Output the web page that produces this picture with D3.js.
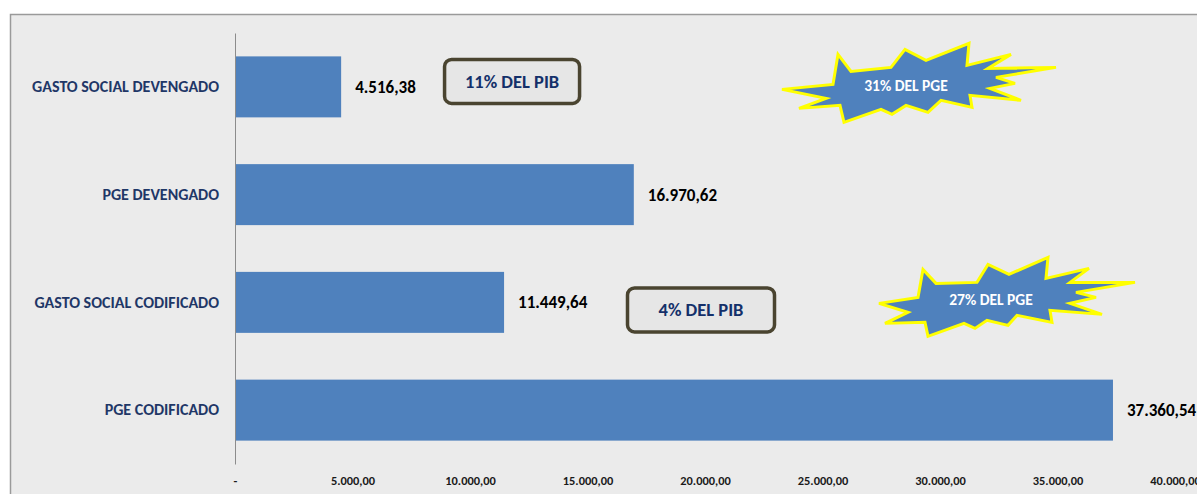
<!DOCTYPE html>
<html>
<head>
<meta charset="utf-8">
<script src="https://cdn.jsdelivr.net/npm/d3@7"></script>
<style>
  body { margin: 0; background: #fff; }
  svg { display: block; font-family: Carlito, Lato, sans-serif; }
</style>
</head>
<body>
<svg id="chart" width="1197" height="494"></svg>
<script>
const categories = ['GASTO SOCIAL DEVENGADO', 'PGE DEVENGADO', 'GASTO SOCIAL CODIFICADO', 'PGE CODIFICADO']
const values = [4516.38, 16970.62, 11449.64, 37360.54]
const xTickValues = [0, 5000, 10000, 15000, 20000, 25000, 30000, 35000, 40000]
const xTickLabels = ['-', '5.000,00', '10.000,00', '15.000,00', '20.000,00', '25.000,00', '30.000,00', '35.000,00', '40.000,00']

// annotations: text, category it sits next to, x value of its centre
const boxNotes = [
	{ text: '11% DEL PIB', cat: 'GASTO SOCIAL DEVENGADO', at: 11790 },
	{ text: '4% DEL PIB', cat: 'GASTO SOCIAL CODIFICADO', at: 19830 }
]
const starNotes = [
	{ text: '31% DEL PGE', cat: 'GASTO SOCIAL DEVENGADO', at: 28553 },
	{ text: '27% DEL PGE', cat: 'GASTO SOCIAL CODIFICADO', at: 32170 }
]

// layout of the callouts (offsets from band centre, sizes)
const boxLayout = [{ dy: -5.5, w: 135 }, { dy: 7.5, w: 147 }]
const starLayout = [{ dy: -1.5 }, { dy: -3 }]
const starShapes = [
	[[-124,4],[-73,-1],[-68,-31],[-55,-14],[-15,-18],[-1,-36],[20,-25],[63,-42],[61,-20],[105,-31],[82,-17],[150,-18],[90,-8],[109,-2],[84,3],[115,15],[64,10],[66,22],[35,15],[22,27],[0,20],[-14,29],[-25,24],[-62,37],[-66,20],[-107,23],[-80,13]],
	[[-112,4],[-73,-2],[-68,-30],[-55,-16],[-14,-17],[-3,-35],[18,-25],[57,-42],[55,-21],[98,-31],[79,-17],[144,-17],[85,-7],[105,-2],[79,4],[111,15],[59,11],[61,23],[26,16],[17,26],[-4,21],[-16,29],[-27,24],[-63,37],[-66,23],[-106,24],[-83,13]]
]

const locale = d3.formatLocale({ decimal: ',', thousands: '.', grouping: [3], currency: ['$', ''] })
const fmt = locale.format(',.2f')

const svg = d3.select('#chart')

// chart area frame
svg.append('rect')
	.attr('x', 10.5).attr('y', 14.5)
	.attr('width', 1200).attr('height', 500)
	.attr('fill', '#ebebeb')
	.attr('stroke', '#9a9a9a')
	.attr('stroke-width', 1.5)

const x = d3.scaleLinear().domain([0, 40000]).range([235, 1175])
const y = d3.scaleBand().domain(categories).range([33, 464]).paddingInner(0.434).paddingOuter(0.217)
const mid = d => y(d) + y.bandwidth() / 2

// bars
svg.append('g').selectAll('rect').data(categories)
	.enter().append('rect')
	.attr('x', x(0))
	.attr('y', d => y(d))
	.attr('width', (d, i) => x(values[i]) - x(0))
	.attr('height', y.bandwidth())
	.attr('fill', '#4f81bd')

// value labels
svg.append('g').selectAll('text').data(categories)
	.enter().append('text')
	.attr('x', (d, i) => x(values[i]) + 14)
	.attr('y', mid)
	.attr('dy', '0.35em')
	.attr('font-size', 17)
	.attr('font-weight', 'bold')
	.attr('fill', '#000')
	.text((d, i) => fmt(values[i]))

// y axis
const yAxis = svg.append('g')
	.attr('transform', `translate(${x(0)},0)`)
	.call(d3.axisLeft(y).tickSize(0).tickPadding(16))
yAxis.select('.domain').attr('stroke', '#8c8c8c')
yAxis.selectAll('text')
	.attr('font-family', 'Carlito, Lato, sans-serif')
	.attr('font-size', 16)
	.attr('font-weight', 'bold')
	.attr('fill', '#1f3767')

// x axis (labels only)
const xAxis = svg.append('g')
	.attr('transform', 'translate(0,472)')
	.call(d3.axisBottom(x).tickValues(xTickValues).tickSize(0).tickPadding(4)
		.tickFormat((d, i) => xTickLabels[i]))
xAxis.select('.domain').remove()
xAxis.selectAll('text')
	.attr('font-family', 'Carlito, Lato, sans-serif')
	.attr('font-size', 12.4)
	.attr('font-weight', 'bold')
	.attr('fill', '#1a1a1a')

// rounded boxes
const boxes = svg.append('g').selectAll('g').data(boxNotes)
	.enter().append('g')
	.attr('transform', (d, i) => `translate(${x(d.at)},${mid(d.cat) + boxLayout[i].dy})`)
boxes.append('rect')
	.attr('x', (d, i) => -boxLayout[i].w / 2).attr('y', -22)
	.attr('width', (d, i) => boxLayout[i].w).attr('height', 44)
	.attr('rx', 7)
	.attr('fill', '#e6e6e6')
	.attr('stroke', '#4a4430')
	.attr('stroke-width', 3.5)
boxes.append('text')
	.attr('text-anchor', 'middle')
	.attr('dy', '0.35em')
	.attr('font-size', 18.5)
	.attr('font-weight', 'bold')
	.attr('fill', '#14306a')
	.text(d => d.text)

// starbursts
const stars = svg.append('g').selectAll('g').data(starNotes)
	.enter().append('g')
	.attr('transform', (d, i) => `translate(${x(d.at)},${mid(d.cat) + starLayout[i].dy})`)
stars.append('path')
	.attr('d', (d, i) => 'M' + starShapes[i].join('L') + 'Z')
	.attr('fill', '#4f81bd')
	.attr('stroke', '#ffff00')
	.attr('stroke-width', 3)
	.attr('stroke-linejoin', 'miter')
stars.append('text')
	.attr('text-anchor', 'middle')
	.attr('dy', '0.35em')
	.attr('font-size', 15.5)
	.attr('font-weight', 'bold')
	.attr('fill', '#fff')
	.text(d => d.text)
</script>
</body>
</html>
